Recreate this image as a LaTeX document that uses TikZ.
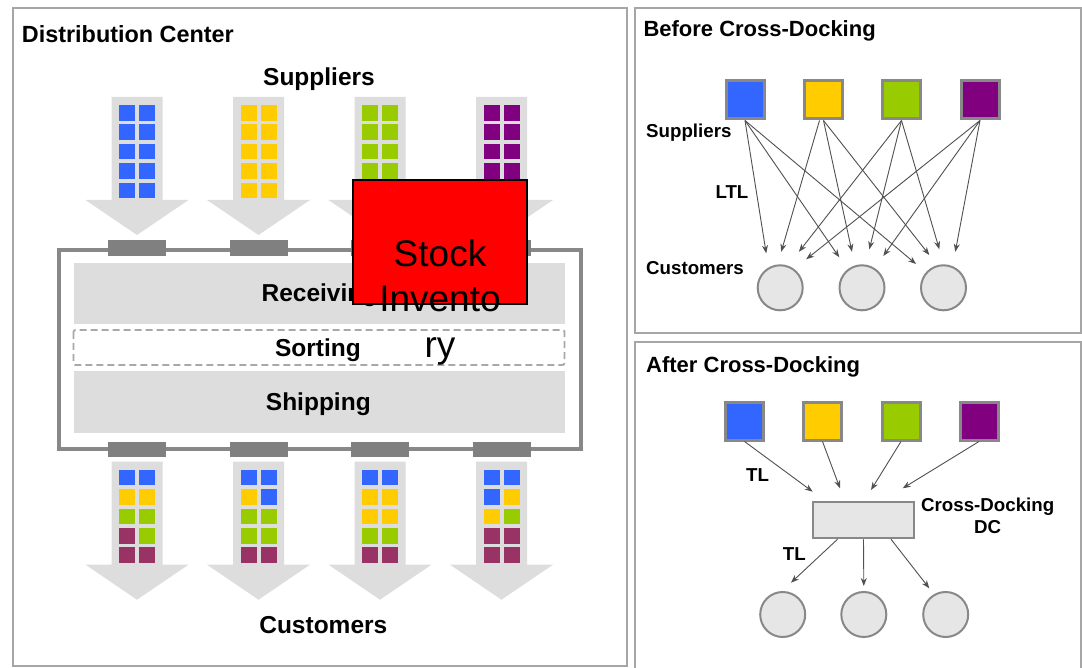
\documentclass[tikz,border=0pt]{standalone}
\usepackage{fontspec}
\setmainfont{Liberation Sans}
\usetikzlibrary{arrows.meta,calc}

\definecolor{cblue}{HTML}{3366FF}
\definecolor{cyellow}{HTML}{FFCC00}
\definecolor{cgreen}{HTML}{99CC00}
\definecolor{cpurple}{HTML}{800080}
\definecolor{cmaroon}{HTML}{993366}
\definecolor{flowgray}{HTML}{DDDDDD}
\definecolor{dockgray}{HTML}{808080}
\definecolor{framegray}{HTML}{A6A6A6}
\definecolor{nodegray}{HTML}{E6E6E6}
\definecolor{edgegray}{HTML}{888888}
\definecolor{arrowgray}{HTML}{505050}
\definecolor{dashgray}{HTML}{A8A8A8}

% big downward flow arrow: centre x, top y
\newcommand\drawflowarrow[2]{%
  \fill[flowgray] ({#1-25.5},#2) -- ({#1+25.5},#2) -- ({#1+25.5},{#2+103})
    -- ({#1+51.5},{#2+103}) -- (#1,{#2+138}) -- ({#1-51.5},{#2+103})
    -- ({#1-25.5},{#2+103}) -- cycle;}

% 2 x 5 stack of cargo units inside a flow arrow: centre x, top y, colours row by row
\newcommand\cargostack[3]{%
  \foreach \c [count=\i from 0] in {#3} {%
    \pgfmathsetmacro\crow{int(\i/2)}%
    \pgfmathsetmacro\ccol{mod(\i,2)}%
    \fill[\c] ({#1-17.7+\ccol*20},{#2+8+\crow*19.4}) rectangle ++(15.7,15.7);
  }}

\tikzset{
  panel/.style={draw=framegray, line width=2pt},
  paneltitle/.style={font=\bfseries\fontsize{22}{26}\selectfont, anchor=base west, inner sep=0pt},
  biglabel/.style={font=\bfseries\fontsize{24.5}{28}\selectfont, anchor=base, inner sep=0pt},
  smalllabel/.style={font=\bfseries\fontsize{18.7}{21.6}\selectfont, inner sep=0pt},
  supplier/.style={draw=edgegray, line width=3pt, minimum size=38pt, inner sep=0pt},
  customer/.style={circle, draw=edgegray, fill=nodegray, line width=2pt, minimum size=45pt, inner sep=0pt},
  conn/.style={draw=arrowgray, line width=0.9pt, -{Stealth[length=8pt,width=6pt]}},
  dock/.style={fill=dockgray, minimum width=58pt, minimum height=15.5pt, inner sep=0pt},
  band/.style={fill=flowgray},
  stockbox/.style={draw=black, fill=red, line width=1.5pt, minimum width=174pt, minimum height=124pt, inner sep=0pt},
  stocktext/.style={font=\fontsize{37}{45.5}\selectfont, align=center, inner sep=0pt},
}

\begin{document}
\begin{tikzpicture}[x=1pt, y=-1pt]
\useasboundingbox (0,0) rectangle (1082,668);
\fill[white] (0,0) rectangle (1082,668);

% ---------- panels ----------
\draw[panel] (12.5,8) rectangle (626.5,666);
\draw[panel] (635,8) rectangle (1081,333.5);
\draw[panel] (635,342.5) rectangle (1081,672);

% ---------- distribution center ----------
\node[paneltitle, font=\bfseries\fontsize{23.4}{28}\selectfont] (dctitle) at (21.7,42.3) {Distribution Center};
\node[biglabel] (suppl) at (319,86) {Suppliers};
\node[biglabel] (custl) at (323.3,633.3) {Customers};

% inbound flows
\foreach \ax in {137,258.5,380,501.5} { \drawflowarrow{\ax}{97} }
\cargostack{137}{97}{cblue,cblue,cblue,cblue,cblue,cblue,cblue,cblue,cblue,cblue}
\cargostack{258.5}{97}{cyellow,cyellow,cyellow,cyellow,cyellow,cyellow,cyellow,cyellow,cyellow,cyellow}
\cargostack{380}{97}{cgreen,cgreen,cgreen,cgreen,cgreen,cgreen,cgreen,cgreen,cgreen,cgreen}
\cargostack{501.5}{97}{cpurple,cpurple,cpurple,cpurple,cpurple,cpurple,cpurple,cpurple,cpurple,cpurple}

% outbound flows
\foreach \ax in {137,258.5,380,501.5} { \drawflowarrow{\ax}{461.7} }
\cargostack{137}{461.7}{cblue,cblue,cyellow,cyellow,cgreen,cgreen,cmaroon,cgreen,cmaroon,cmaroon}
\cargostack{258.5}{461.7}{cblue,cblue,cyellow,cblue,cgreen,cgreen,cgreen,cgreen,cmaroon,cmaroon}
\cargostack{380}{461.7}{cblue,cblue,cyellow,cyellow,cyellow,cyellow,cgreen,cgreen,cmaroon,cmaroon}
\cargostack{501.5}{461.7}{cblue,cblue,cblue,cyellow,cyellow,cgreen,cmaroon,cmaroon,cmaroon,cmaroon}

% building
\draw[edgegray, line width=3.5pt] (59,250) rectangle (581,449);
\fill[band] (73.5,262.8) rectangle (564.5,323.8);
\draw[dashgray, line width=1.8pt, dash pattern=on 7pt off 4pt, rounded corners=2pt] (73.5,330) rectangle (564.5,365);
\fill[band] (73.5,370.8) rectangle (564.5,432.9);
\node[biglabel] (recv) at (319.5,302) {Receiving};
\node[biglabel] (sort) at (318,356) {Sorting};
\node[biglabel] (ship) at (318.3,410.5) {Shipping};

% docks
\node[dock] (dt1) at (137,248) {};
\node[dock] (dt2) at (258.5,248) {};
\node[dock] (dt3) at (380,248) {};
\node[dock] (dt4) at (501.5,248) {};
\node[dock] (db1) at (137,449.6) {};
\node[dock] (db2) at (258.5,449.6) {};
\node[dock] (db3) at (380,449.6) {};
\node[dock] (db4) at (501.5,449.6) {};

% stock inventory box
\node[stockbox] (stock) at (440,242) {};
\node[stocktext, anchor=north] (stocklabel) at (440,239) {Stock\\Invento\\ry};

% ---------- before cross-docking ----------
\node[paneltitle] (beftitle) at (643.3,36.7) {Before Cross-Docking};
\node[supplier, fill=cblue]   (b1) at (745,100) {};
\node[supplier, fill=cyellow] (b2) at (823.5,100) {};
\node[supplier, fill=cgreen]  (b3) at (901.5,100) {};
\node[supplier, fill=cpurple] (b4) at (980,100) {};
\node[customer] (k1) at (780.2,287.8) {};
\node[customer] (k2) at (862,287.8) {};
\node[customer] (k3) at (943.5,287.8) {};
\node[smalllabel, anchor=base west] (befsup) at (646,137.7) {Suppliers};
\node[smalllabel, anchor=base west] (ltl) at (715.3,198.3) {LTL};
\node[smalllabel, anchor=base west] (befcus) at (646,275) {Customers};

\draw[conn] (b1.south) -- ($(k1)+(-14,-34.5)$);
\draw[conn] (b1.south) -- ($(k2)+(-22.7,-30.5)$);
\draw[conn] (b1.south) -- ($(k3)+(-27.5,-23.8)$);
\draw[conn] ($(b2.south)+(-4,0)$) -- ($(k1)+(1,-36)$);
\draw[conn] (b2.south) -- ($(k2)+(-10,-36)$);
\draw[conn] (b2.south) -- ($(k3)+(-14.2,-32.8)$);
\draw[conn] (b3.south) -- ($(k1)+(18.7,-36)$);
\draw[conn] (b3.south) -- ($(k2)+(7.3,-38.5)$);
\draw[conn] (b3.south) -- ($(k3)+(-4.2,-38.5)$);
\draw[conn] (b4.south) -- ($(k1)+(26,-28.5)$);
\draw[conn] (b4.south) -- ($(k2)+(21.3,-31.8)$);
\draw[conn] (b4.south) -- ($(k3)+(11.8,-36)$);

% ---------- after cross-docking ----------
\node[paneltitle] (afttitle) at (646,372.3) {After Cross-Docking};
\node[supplier, fill=cblue]   (a1) at (744.5,421) {};
\node[supplier, fill=cyellow] (a2) at (822.5,421) {};
\node[supplier, fill=cgreen]  (a3) at (901,421) {};
\node[supplier, fill=cpurple] (a4) at (979,421) {};
\node[draw=edgegray, fill=nodegray, line width=2.5pt, minimum width=101pt, minimum height=36pt, inner sep=0pt] (dc) at (863.5,520) {};
\node[customer] (m1) at (782.7,614.5) {};
\node[customer] (m2) at (863.8,614.5) {};
\node[customer] (m3) at (945.7,614.5) {};
\node[smalllabel, anchor=base west] (tl1) at (746,481.7) {TL};
\node[smalllabel, anchor=base west] (tl2) at (782.7,560) {TL};
\node[smalllabel, align=center, anchor=north] (dcl) at (987.7,498) {Cross-Docking\\DC};

\draw[conn] (a1.south) -- ($(dc)+(-50.8,-28.3)$);
\draw[conn] (a2.south) -- ($(dc)+(-23.5,-31.7)$);
\draw[conn] (a3.south) -- ($(dc)+(7.5,-30)$);
\draw[conn] (a4.south) -- ($(dc)+(39.2,-31.7)$);
\draw[conn] ($(dc.south)+(-26,0)$) -- ($(m1)+(8.3,-31.8)$);
\draw[conn] (dc.south) -- ($(m2)+(0,-28.5)$);
\draw[conn] ($(dc.south)+(27.5,0)$) -- ($(m3)+(-16.4,-26.2)$);
\end{tikzpicture}
\end{document}
